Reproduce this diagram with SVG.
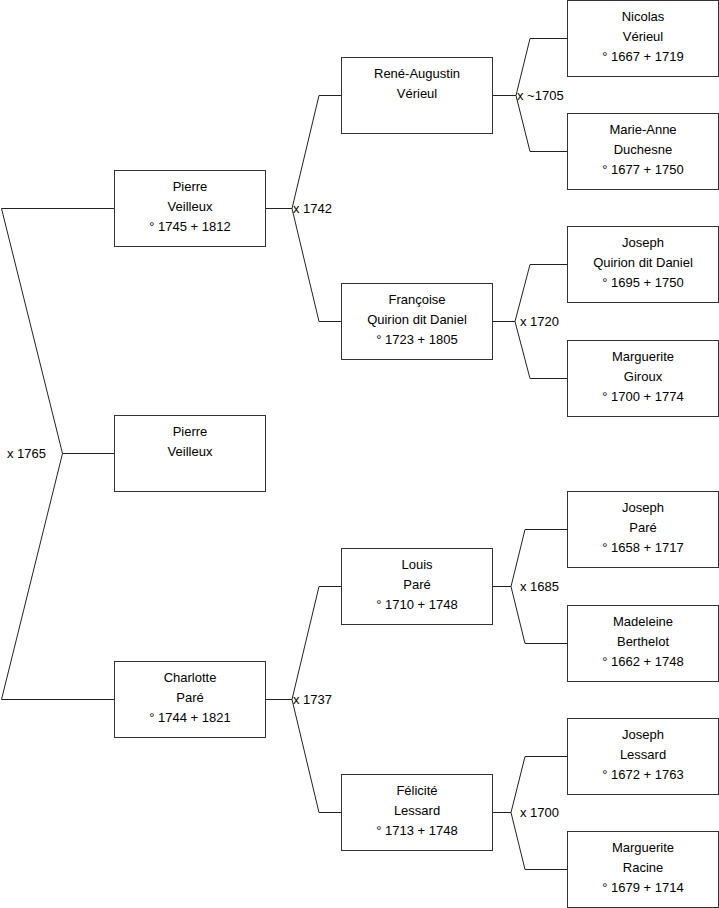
<svg xmlns="http://www.w3.org/2000/svg" width="719" height="908" viewBox="0 0 719 908">
<style>
.box rect{fill:#fff;stroke:#333;stroke-width:1}
text{font-family:"Liberation Sans",Arial,sans-serif;font-size:13px;fill:#000}
.box text{text-anchor:middle}
#connectors polyline,#connectors line{fill:none;stroke:#222;stroke-width:1}
</style>
<rect width="719" height="908" fill="#fff"/>
<g id="connectors">
<polyline points="114.5,208.5 1.5,208.5 62.5,453.5 1.5,699.5 114.5,699.5"/>
<line x1="62.5" y1="453.5" x2="114.5" y2="453.5"/>
<line x1="265.5" y1="208.5" x2="292" y2="208.5"/>
<polyline points="341.5,95.5 319,95.5 292,208.5 319,321.5 341.5,321.5"/>
<line x1="265.5" y1="699.5" x2="292" y2="699.5"/>
<polyline points="341.5,586.5 319,586.5 292,699.5 319,812.5 341.5,812.5"/>
<line x1="492.5" y1="95.5" x2="516" y2="95.5"/>
<polyline points="567.5,38.5 530,38.5 516,95.5 530,151.5 567.5,151.5"/>
<line x1="492.5" y1="321.5" x2="515" y2="321.5"/>
<polyline points="567.5,264.5 530,264.5 515,321.5 530,378.5 567.5,378.5"/>
<line x1="492.5" y1="586.5" x2="511" y2="586.5"/>
<polyline points="567.5,529.5 525,529.5 511,586.5 525,643.5 567.5,643.5"/>
<line x1="492.5" y1="812.5" x2="511" y2="812.5"/>
<polyline points="567.5,756.5 525,756.5 511,812.5 525,869.5 567.5,869.5"/>
<text x="7" y="458">x 1765</text>
<text x="293" y="213">x 1742</text>
<text x="293" y="704">x 1737</text>
<text x="517" y="100">x ~1705</text>
<text x="520" y="326">x 1720</text>
<text x="520" y="591">x 1685</text>
<text x="520" y="817">x 1700</text>
</g>
<g id="pierre-veilleux-1745" class="box"><rect x="114.5" y="170.5" width="151" height="76"/><text x="190" y="190.5">Pierre</text><text x="190" y="210.5">Veilleux</text><text x="190" y="230.5">° 1745 + 1812</text></g>
<g id="pierre-veilleux" class="box"><rect x="114.5" y="415.5" width="151" height="76"/><text x="190" y="435.5">Pierre</text><text x="190" y="455.5">Veilleux</text></g>
<g id="charlotte-pare" class="box"><rect x="114.5" y="661.5" width="151" height="76"/><text x="190" y="681.5">Charlotte</text><text x="190" y="701.5">Paré</text><text x="190" y="721.5">° 1744 + 1821</text></g>
<g id="rene-augustin-verieul" class="box"><rect x="341.5" y="57.5" width="151" height="76"/><text x="417" y="77.5">René-Augustin</text><text x="417" y="97.5">Vérieul</text></g>
<g id="francoise-quirion" class="box"><rect x="341.5" y="283.5" width="151" height="76"/><text x="417" y="303.5">Françoise</text><text x="417" y="323.5">Quirion dit Daniel</text><text x="417" y="343.5">° 1723 + 1805</text></g>
<g id="louis-pare" class="box"><rect x="341.5" y="548.5" width="151" height="76"/><text x="417" y="568.5">Louis</text><text x="417" y="588.5">Paré</text><text x="417" y="608.5">° 1710 + 1748</text></g>
<g id="felicite-lessard" class="box"><rect x="341.5" y="774.5" width="151" height="76"/><text x="417" y="794.5">Félicité</text><text x="417" y="814.5">Lessard</text><text x="417" y="834.5">° 1713 + 1748</text></g>
<g id="nicolas-verieul" class="box"><rect x="567.5" y="0.5" width="151" height="76"/><text x="643" y="20.5">Nicolas</text><text x="643" y="40.5">Vérieul</text><text x="643" y="60.5">° 1667 + 1719</text></g>
<g id="marie-anne-duchesne" class="box"><rect x="567.5" y="113.5" width="151" height="76"/><text x="643" y="133.5">Marie-Anne</text><text x="643" y="153.5">Duchesne</text><text x="643" y="173.5">° 1677 + 1750</text></g>
<g id="joseph-quirion" class="box"><rect x="567.5" y="226.5" width="151" height="76"/><text x="643" y="246.5">Joseph</text><text x="643" y="266.5">Quirion dit Daniel</text><text x="643" y="286.5">° 1695 + 1750</text></g>
<g id="marguerite-giroux" class="box"><rect x="567.5" y="340.5" width="151" height="76"/><text x="643" y="360.5">Marguerite</text><text x="643" y="380.5">Giroux</text><text x="643" y="400.5">° 1700 + 1774</text></g>
<g id="joseph-pare" class="box"><rect x="567.5" y="491.5" width="151" height="76"/><text x="643" y="511.5">Joseph</text><text x="643" y="531.5">Paré</text><text x="643" y="551.5">° 1658 + 1717</text></g>
<g id="madeleine-berthelot" class="box"><rect x="567.5" y="605.5" width="151" height="76"/><text x="643" y="625.5">Madeleine</text><text x="643" y="645.5">Berthelot</text><text x="643" y="665.5">° 1662 + 1748</text></g>
<g id="joseph-lessard" class="box"><rect x="567.5" y="718.5" width="151" height="76"/><text x="643" y="738.5">Joseph</text><text x="643" y="758.5">Lessard</text><text x="643" y="778.5">° 1672 + 1763</text></g>
<g id="marguerite-racine" class="box"><rect x="567.5" y="831.5" width="151" height="76"/><text x="643" y="851.5">Marguerite</text><text x="643" y="871.5">Racine</text><text x="643" y="891.5">° 1679 + 1714</text></g>
</svg>
